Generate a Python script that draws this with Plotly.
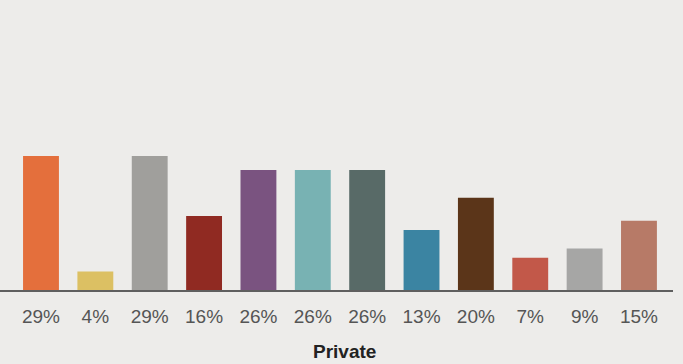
import plotly.graph_objects as go

categories = list(range(12))
values = [29, 4, 29, 16, 26, 26, 26, 13, 20, 7, 9, 15]
labels = ["29%", "4%", "29%", "16%", "26%", "26%", "26%", "13%", "20%", "7%", "9%", "15%"]
colors = ["#e46f3c", "#dcc063", "#a09f9c", "#902a22", "#7a5380", "#78b2b3",
          "#586a67", "#3b84a2", "#5b3519", "#c25849", "#a6a6a5", "#b77a67"]
axis_title = "Private"

bg = "#edecea"

fig = go.Figure(go.Bar(
    x=categories, y=values, width=0.66,
    marker=dict(color=colors, line=dict(width=0)),
    hoverinfo="skip",
))

fig.update_layout(
    width=683, height=364,
    margin=dict(l=0, r=10, t=0, b=74),
    paper_bgcolor=bg, plot_bgcolor=bg,
    showlegend=False,
    xaxis=dict(
        range=[-0.754, 11.626], tickmode="array", tickvals=categories, ticktext=labels,
        showgrid=False, zeroline=False, showline=True, linecolor="#5f5f5f", linewidth=2,
        ticks="outside", ticklen=8, tickcolor=bg, automargin=False,
        tickfont=dict(family="Liberation Sans, Arial, sans-serif", size=19, color="#555555"),
        fixedrange=True,
    ),
    yaxis=dict(range=[0, 62.8], visible=False, fixedrange=True, automargin=False),
    annotations=[dict(
        text="<b>" + axis_title + "</b>", xref="paper", yref="paper",
        x=345 / 673, y=-61 / 290, xanchor="center", yanchor="middle", showarrow=False,
        font=dict(family="Liberation Sans, Arial, sans-serif", size=19, color="#222222"),
    )],
)

fig.write_html("out.html", config={"displayModeBar": False, "staticPlot": True},
               post_script="document.body.style.margin='0';document.body.style.overflow='hidden';")
